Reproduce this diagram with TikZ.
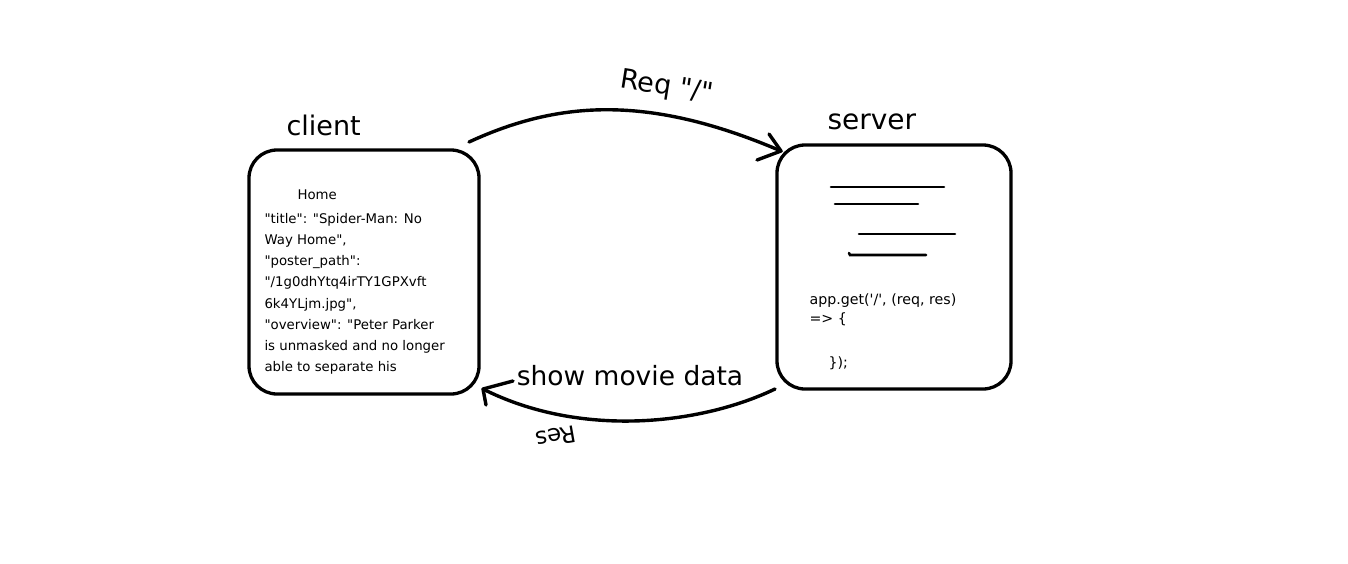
\documentclass[tikz,border=0pt]{standalone}
\usepackage{fontspec}
\setmainfont{DejaVu Sans}[Ligatures=TeXOff]
\newcommand{\dq}{\char34{}}
\newcommand{\sq}{\char39{}}
\begin{document}
\begin{tikzpicture}[x=1pt,y=-1pt,
  box/.style={draw,line width=3.3pt,rounded corners=28pt,inner sep=0pt},
  conn/.style={line width=3.4pt,line cap=round,line join=round},
  title/.style={font=\fontsize{27}{30}\selectfont,anchor=base west},
  body/.style={font=\fontsize{13.3}{21.1}\selectfont,anchor=base west},
  stroke/.style={line width=2.6pt,line cap=round}]
\useasboundingbox[fill=white] (0,0) rectangle (1348,563);
% boxes
\node[box,minimum width=230pt,minimum height=244pt] (client) at (364,272) {};
\node[box,minimum width=234pt,minimum height=244pt] (server) at (894,267) {};
% titles
\node[title] (clientlbl) at (283,135) {client};
\node[title,font=\fontsize{28}{30}\selectfont] (serverlbl) at (824,129) {server};
% client text
\node[body] (home) at (294,199) {Home};
\node[body,align=left,anchor=north west] (json) at (261,210) {\dq title\dq: \dq Spider-Man: No\\Way Home\dq,\\\dq poster\_path\dq:\\\dq/1g0dhYtq4irTY1GPXvft\\6k4YLjm.jpg\dq,\\\dq overview\dq: \dq Peter Parker\\is unmasked and no longer\\able to separate his};
% server sketch lines
\draw[stroke] (831,187) -- (944,187);
\draw[stroke] (835,204) -- (918,204);
\draw[stroke] (859,234) -- (955,234);
\draw[stroke] (849,253) -- (850,255) -- (926,255);
% server code
\node[body,align=left,anchor=north west,font=\fontsize{14.2}{19}\selectfont] (code) at (806,290) {app.get(\sq/\sq, (req, res)\\=> \{};
\node[body,font=\fontsize{14.2}{19}\selectfont] (close) at (825,367) {\});};
% request arrow
\coordinate (reqs) at (469,142);
\coordinate (reqe) at (781,151);
\draw[conn] (reqs) .. controls (560,100) and (650,95) .. (reqe);
\draw[conn] (769,134) -- (reqe) -- (757,160);
\node[font=\fontsize{27}{29}\selectfont,rotate=-9] (reqlbl) at (667,88) {Req \dq/\dq};
% response arrow
\coordinate (ress) at (775,389);
\coordinate (rese) at (483,389);
\draw[conn] (ress) .. controls (700,425) and (580,438) .. (rese);
\draw[conn] (513,381) -- (rese) -- (486,405);
\node[font=\fontsize{26.5}{28}\selectfont] (showlbl) at (630,376) {show movie data};
\node[font=\fontsize{23}{24}\selectfont,rotate=190] (reslbl) at (556,437) {Res};
\end{tikzpicture}
\end{document}
